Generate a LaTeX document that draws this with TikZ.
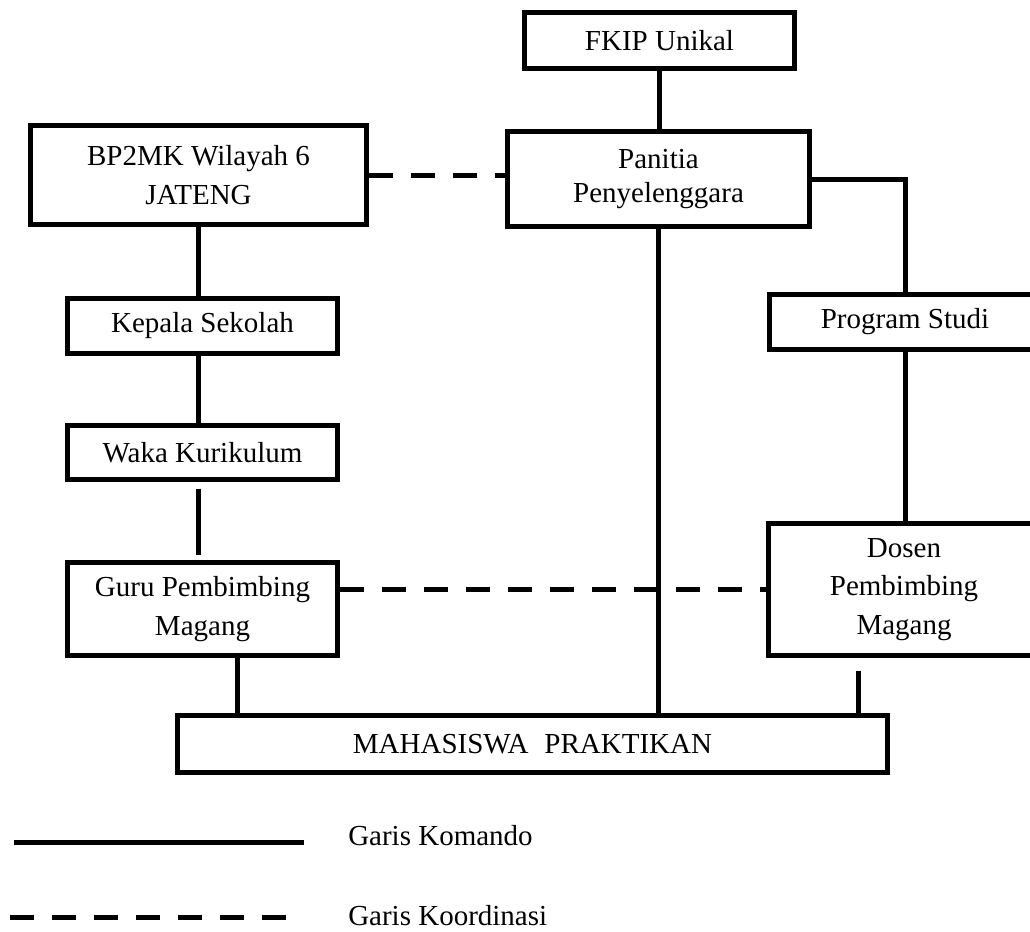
\documentclass[tikz,border=0pt]{standalone}
\usepackage{fontspec}
\setmainfont{Liberation Serif}
\begin{document}
\begin{tikzpicture}[x=0.75pt,y=-0.75pt,
  box/.style={draw=black, line width=3.75pt, fill=white, align=center, inner sep=0pt,
    font=\fontsize{21.75}{29}\selectfont},
  sz/.style 2 args={minimum width=#1*0.75pt, minimum height=#2*0.75pt},
  cmd/.style={line width=3.75pt},
  koord/.style={line width=3.75pt, dash pattern=on 18pt off 13.5pt},
  lbl/.style={font=\fontsize{21.75}{29}\selectfont, anchor=base west, inner sep=0pt}]
\useasboundingbox (0,0) rectangle (1030,931);

% boxes
\node[box, sz={270}{56}] (fkip) at (659.5,40.5) {FKIP Unikal};
\node[box, sz={302}{95}, font=\fontsize{21.75}{26}\selectfont] (pan) at (658.5,179) {Panitia\\Penyelenggara};
\node[box, sz={336}{99}] (bp) at (198.5,175) {BP2MK Wilayah 6\\JATENG};
\node[box, sz={270}{55}] (kep) at (202.5,326) {Kepala Sekolah};
\node[box, sz={270}{54}] (waka) at (202.5,452.5) {Waka Kurikulum};
\node[box, sz={270}{93}] (guru) at (202.5,609) {Guru Pembimbing\\Magang};
\node[box, sz={271}{55}] (prodi) at (905,322) {Program Studi};
\node[box, sz={271}{132}] (dosen) at (904,589.5) {Dosen\\Pembimbing\\Magang};
\node[box, sz={710}{57}] (mhs) at (532.5,744) {MAHASISWA\hspace{0.55em}PRAKTIKAN};

% helper coordinates
\coordinate (gx) at (237,0);
\coordinate (dx) at (858,0);

% command lines
\draw[cmd] (fkip.south) -- (fkip.south |- pan.north);
\draw[cmd] (pan.south) -- (pan.south |- mhs.north);
\draw[cmd] (pan.east) -| (prodi.north);
\draw[cmd] (bp.south) -- (bp.south |- kep.north);
\draw[cmd] (kep.south -| bp.south) -- (bp.south |- waka.north);
\draw[cmd, shorten <=4.9pt, shorten >=4.1pt] (waka.south -| bp.south) -- (bp.south |- guru.north);
\draw[cmd] (prodi.south) -- (prodi.south |- dosen.north);
\draw[cmd] (gx |- guru.south) -- (gx |- mhs.north);
\draw[cmd, shorten <=9.4pt] (dx |- dosen.south) -- (dx |- mhs.north);

% coordination lines
\draw[koord] (bp.east) -- (bp.east -| pan.west);
\draw[koord] (guru.east |- dosen.west) -- (dosen.west);

% legend
\coordinate (k1) at (14,842);
\coordinate (k2) at (304,842);
\draw[cmd] (k1) -- (k2);
\node[lbl] (lk) at (348,845) {Garis Komando};
\coordinate (c1) at (10,917);
\coordinate (c2) at (286,917);
\draw[koord] (c1) -- (c2);
\node[lbl] (lc) at (348,925) {Garis Koordinasi};
\end{tikzpicture}
\end{document}
